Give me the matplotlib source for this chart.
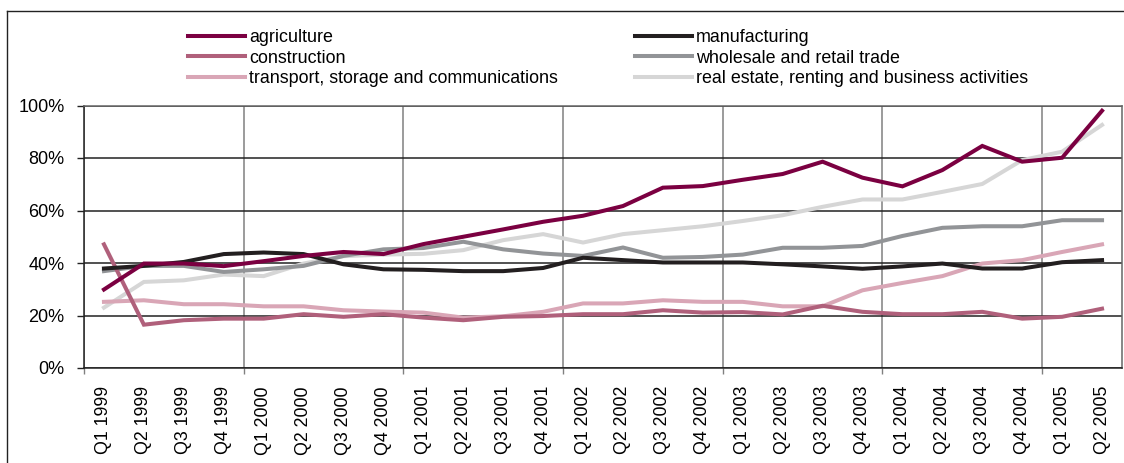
import matplotlib
matplotlib.use('Agg')
from matplotlib import pyplot as plt
from matplotlib.lines import Line2D
from matplotlib.ticker import FixedLocator, FuncFormatter
import numpy as np

plt.rcParams['font.family'] = ['Liberation Sans', 'DejaVu Sans']

quarters = ['Q%d %d' % (q, y) for y in range(1999, 2006) for q in range(1, 5)][:26]

agriculture = [29.9, 39.8, 39.8, 38.8, 40.7, 42.7, 44.2, 43.4, 47.2, 50.0,
               52.8, 55.7, 58.0, 61.7, 68.7, 69.3, 71.7, 73.9, 78.6, 72.5,
               69.2, 75.4, 84.6, 78.6, 80.1, 98.0]
manufacturing = [37.9, 38.9, 40.4, 43.4, 44.0, 43.4, 39.5, 37.6, 37.4, 36.9,
                 36.9, 38.1, 42.0, 41.1, 40.2, 40.2, 40.2, 39.5, 38.7, 37.8,
                 38.7, 39.8, 37.9, 37.9, 40.3, 41.1]
construction = [47.1, 16.5, 18.2, 18.8, 18.8, 20.5, 19.5, 20.5, 19.2, 18.2,
                19.5, 19.8, 20.5, 20.5, 22.0, 21.1, 21.3, 20.4, 23.7, 21.4,
                20.5, 20.5, 21.4, 18.8, 19.5, 22.6]
wholesale = [36.9, 38.9, 38.9, 36.6, 37.6, 38.9, 42.7, 45.2, 45.7, 48.1,
             45.2, 43.6, 42.7, 45.9, 42.0, 42.3, 43.2, 45.8, 45.8, 46.5,
             50.3, 53.4, 54.0, 54.0, 56.3, 56.3]
transport = [25.2, 25.8, 24.3, 24.3, 23.5, 23.5, 22.0, 21.5, 21.1, 19.2,
             19.7, 21.4, 24.6, 24.6, 25.8, 25.2, 25.2, 23.5, 23.5, 29.6,
             32.4, 35.0, 39.8, 41.1, 44.2, 47.1]
real_estate = [23.0, 32.8, 33.4, 35.6, 35.0, 39.8, 42.6, 43.2, 43.5, 44.9,
               48.7, 51.0, 47.8, 51.0, 52.5, 54.0, 56.0, 58.2, 61.4, 64.2,
               64.2, 67.1, 70.1, 79.2, 82.4, 92.6]

series = [
    ('agriculture', agriculture, '#7b0041'),
    ('construction', construction, '#b0607b'),
    ('transport, storage and communications', transport, '#d9a6b6'),
    ('manufacturing', manufacturing, '#231f20'),
    ('wholesale and retail trade', wholesale, '#929497'),
    ('real estate, renting and business activities', real_estate, '#d6d6d6'),
]
draw_order = [5, 4, 2, 1, 3, 0]

fig = plt.figure(figsize=(11.24, 4.63), dpi=100)
ax = fig.add_axes([84 / 1124, 1 - 368 / 463, 1038 / 1124, 262.5 / 463])

x = np.arange(len(quarters))
handles = {}
for i in draw_order:
    name, vals, col = series[i]
    h, = ax.plot(x, vals, color=col, linewidth=2.9, label=name,
                 solid_joinstyle='miter', zorder=3 + draw_order.index(i))
    handles[i] = h

ax.set_xlim(-0.5, len(quarters) - 0.5)
ax.set_ylim(0, 100)

ax.set_xticks(x)
ax.set_xticklabels(quarters, rotation=90, fontsize=12.8)
ax.xaxis.set_minor_locator(FixedLocator(np.arange(-0.5, len(quarters), 4)))
ax.tick_params(axis='x', which='major', length=0, pad=13)
ax.tick_params(axis='x', which='minor', length=4, width=1, color='#808080',
               direction='out')
ax.grid(axis='x', which='minor', color='#808080', linewidth=1.1)

ax.set_yticks(np.arange(0, 101, 20))
ax.yaxis.set_major_formatter(FuncFormatter(lambda v, p: '%d%%' % v))
ax.tick_params(axis='y', length=5, width=1, color='#222222', pad=9,
               labelsize=13)
ax.grid(axis='y', which='major', color='#222222', linewidth=1.1)
ax.set_axisbelow(True)

for side in ['left', 'bottom']:
    ax.spines[side].set_color('#222222')
    ax.spines[side].set_linewidth(1.1)
for side in ['top', 'right']:
    ax.spines[side].set_color('#666666')
    ax.spines[side].set_linewidth(1.1)

fig.legend([handles[i] for i in range(6)], [s[0] for s in series],
           loc='upper left', bbox_to_anchor=(188 / 1124, 1 - 29 / 463),
           ncol=2, frameon=False, fontsize=12.9, handlelength=3.2,
           handletextpad=0.2, labelspacing=0.2, columnspacing=4.3,
           borderpad=0, borderaxespad=0)

# outer frame (top and left edge)
fig.add_artist(Line2D([7 / 1124, 1.0], [1 - 11 / 463, 1 - 11 / 463],
                      transform=fig.transFigure, color='#222222', linewidth=1))
fig.add_artist(Line2D([7 / 1124, 7 / 1124], [1 - 11 / 463, 0],
                      transform=fig.transFigure, color='#222222', linewidth=1))

fig.savefig('out.png', dpi=100)
